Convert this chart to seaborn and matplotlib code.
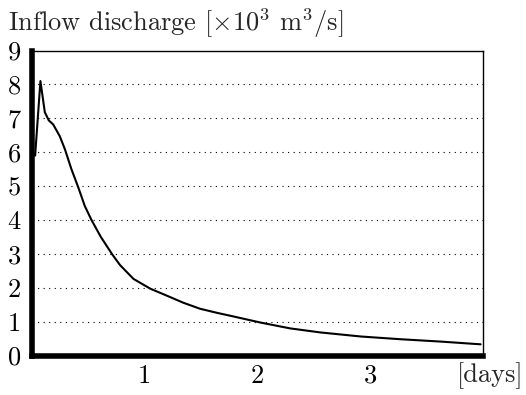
import numpy as np
import pandas as pd
import seaborn as sns
import matplotlib.pyplot as plt

# hydrograph
days = [0.0, 0.027, 0.074, 0.113, 0.148, 0.187, 0.246, 0.291, 0.349, 0.409,
        0.468, 0.527, 0.61, 0.708, 0.78, 0.90, 1.05, 1.20, 1.34, 1.49, 1.64,
        1.79, 2.03, 2.29, 2.56, 2.92, 3.27, 3.63, 3.98]
discharge = [6.0, 5.9, 8.1, 7.18, 6.94, 6.82, 6.47, 6.09, 5.5, 4.97,
             4.41, 4.0, 3.5, 3.0, 2.67, 2.26, 1.97, 1.76, 1.56, 1.38, 1.26,
             1.15, 0.97, 0.8, 0.68, 0.56, 0.48, 0.41, 0.33]
x_ticks = [1, 2, 3]
y_ticks = [0, 1, 2, 3, 4, 5, 6, 7, 8, 9]

sns.set_style('white')
plt.rcParams['font.family'] = ['cmr10', 'DejaVu Serif']
plt.rcParams['mathtext.fontset'] = 'cm'
plt.rcParams['axes.unicode_minus'] = False

df = pd.DataFrame({'days': days, 'q': discharge})

fig = plt.figure(figsize=(5.26, 3.95), dpi=100)
ax = fig.add_axes([0.061, 0.1, 0.857, 0.772])
sns.lineplot(data=df, x='days', y='q', ax=ax, color='black', linewidth=1.5)

ax.set_xlim(0, 4)
ax.set_ylim(0, 9)
ax.set_xticks(x_ticks)
ax.set_yticks(y_ticks)
ax.set_xlabel('')
ax.set_ylabel('')
for y in y_ticks[1:-1]:
    ax.axhline(y, color='black', linestyle=(0, (1, 4)), linewidth=0.8)

ax.spines['left'].set_linewidth(4)
ax.spines['bottom'].set_linewidth(4)
ax.spines['top'].set_linewidth(1)
ax.spines['right'].set_linewidth(1)
for s in ax.spines.values():
    s.set_color('black')
ax.tick_params(direction='in', length=6, width=4, labelsize=19, colors='black')
ax.tick_params(axis='y', pad=8)
ax.tick_params(axis='x', pad=6)

fig.text(0.015, 0.985, r'Inflow discharge [$\times10^3$ m$^3$/s]',
         fontsize=19, va='top', ha='left')
fig.text(0.995, 0.015, '[days]', fontsize=19, va='bottom', ha='right')

fig.savefig('out.png', dpi=100)
